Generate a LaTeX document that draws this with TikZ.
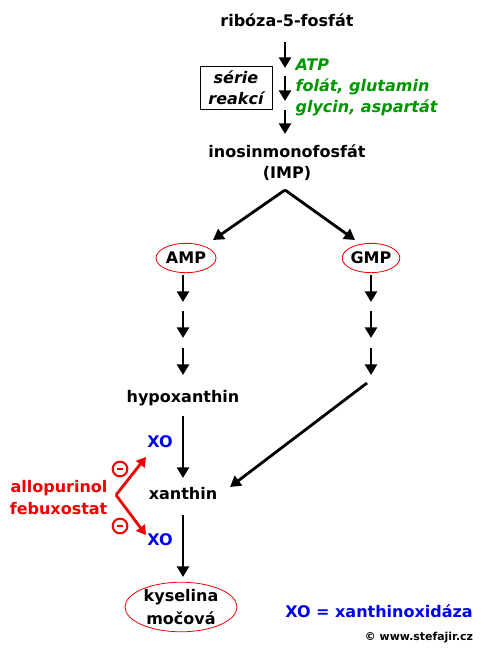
\documentclass[tikz,border=0pt]{standalone}
\usepackage{fontspec}
\setmainfont{DejaVu Sans}
\usetikzlibrary{positioning,calc}
\usetikzlibrary{arrows.meta,shapes.geometric}
\definecolor{PathGreen}{RGB}{0,150,0}
\definecolor{XoBlue}{RGB}{0,0,240}
\definecolor{InhibRed}{RGB}{240,0,0}
\tikzset{
	met/.style={font=\fontsize{12}{15.75}\selectfont\bfseries,align=center,inner sep=1pt},
	oval/.style={met,ellipse,draw=InhibRed,line width=0.6pt,inner sep=0pt},
	rx/.style={-{Triangle[width=9pt,length=8pt]},line width=2.1pt},
	inh/.style={-{Triangle[width=8pt,length=7pt]},line width=2.1pt,draw=InhibRed},
	minus/.style={circle,draw=InhibRed,line width=1.5pt,minimum size=11pt,inner sep=0pt,
		text=InhibRed},
}
\begin{document}
\begin{tikzpicture}[x=0.75pt,y=-0.75pt]
	\useasboundingbox (0,0) rectangle (480,650);
	% metabolites
	\node[met] (ribosa) at (287,20) {ribóza-5-fosfát};
	\node[met] (imp) at (287,163) {inosinmonofosfát\\(IMP)};
	\node[oval,minimum width=45pt,minimum height=22pt] (amp) at (186,258) {AMP};
	\node[oval,minimum width=43pt,minimum height=22pt] (gmp) at (371,258) {GMP};
	\node[met] (hypox) at (183,398) {hypoxanthin};
	\node[met] (xanth) at (183,494) {xanthin};
	\node[oval,minimum width=84pt,minimum height=37pt,font=\fontsize{12}{17}\selectfont\bfseries] (kys) at (181,607) {kyselina\\močová};
	% synthesis steps
	\node[draw,line width=0.6pt,minimum width=54pt,minimum height=32pt,inner sep=0pt,
		font=\fontsize{12}{15.75}\selectfont\bfseries\itshape,align=center] (serie) at (236,88) {série\\reakcí};
	\node[met,text=PathGreen,align=left,anchor=west,font=\fontsize{12}{15.75}\selectfont\bfseries\itshape]
		(cofact) at (294,87) {ATP\\folát, glutamin\\glycin, aspartát};
	\foreach \ya/\yb in {42/68,76/101,110/134}
		\draw[rx] (285,\ya) -- (285,\yb);
	% branch
	\coordinate (split) at (285,190);
	\draw[rx] (split) -- (213,240);
	\draw[rx] (split) -- (355,240);
	\foreach \ya/\yb in {275/302,311/338,348/375}{
		\draw[rx] (183,\ya) -- (183,\yb);
		\draw[rx] (371,\ya) -- (371,\yb);
	}
	\coordinate (gend) at (367,383);
	\draw[rx] (gend) -- (230,487);
	\draw[rx] (hypox.south |- 0,416) -- (183,478);
	\draw[rx] (183,515) -- (183,577);
	% xanthine oxidase
	\node[met,text=XoBlue] (xo1) at (160,442) {XO};
	\node[met,text=XoBlue] (xo2) at (160,540) {XO};
	\node[met,text=InhibRed,align=right,anchor=east,font=\fontsize{12}{16.5}\selectfont\bfseries] (allo) at (109,498) {allopurinol\\febuxostat};
	\coordinate (vtx) at (116,495);
	\draw[inh] (vtx) -- (146,457);
	\draw[inh] (vtx) -- (146,535);
	\node[minus] (minus1) at (120,469) {\rule{5pt}{2pt}};
	\node[minus] (minus2) at (120,526) {\rule{5pt}{2pt}};
	% legend
	\node[met,text=XoBlue] (legend) at (379,611) {XO = xanthinoxidáza};
	\node[font=\fontsize{8.2}{9}\selectfont\bfseries,inner sep=0pt] (copy) at (419,638) {© www.stefajir.cz};
\end{tikzpicture}
\end{document}
